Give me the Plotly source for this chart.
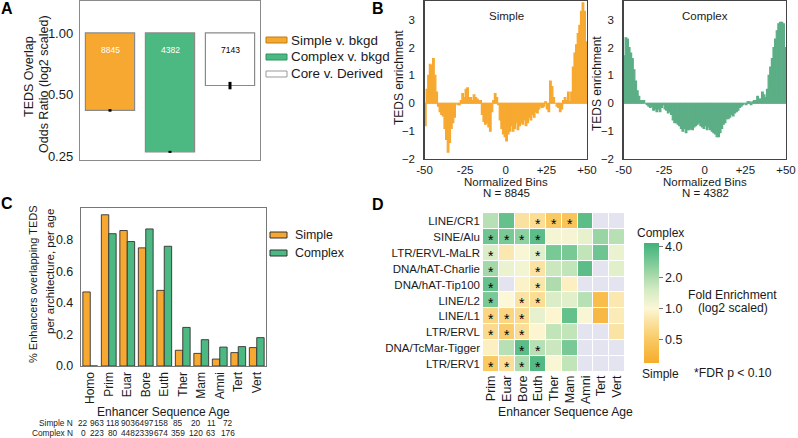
import math
import plotly.graph_objects as go

W, H = 798, 438
def px(x): return x / W
def py(y): return 1 - y / H

FONT = "Liberation Sans, Arial, sans-serif"
TXT = "#1a1a1a"
ORANGE = "#F7A830"
GREEN = "#4DB982"
GREEN_B = "#5CAE86"
NAN_C = "#E3E4EF"

# ---------------- Panel A data ----------------
a_labels = ["Simple v. bkgd", "Complex v. bkgd", "Core v. Derived"]
a_odds = [0.42, 0.264, 0.555]
a_err = [0.006, 0.003, 0.023]
a_n = ["8845", "4382", "7143"]

# ---------------- Panel B data ----------------
b_bins = list(range(-50, 50))
b_simple = [
    -0.8, 0.5, 1.0, 1.4, 1.35, 1.6, 1.0, 0.4, -0.1, -0.3,
    -0.4, -0.45, -0.9, -1.3, -1.75, -1.4, -0.9, -0.7, -0.5, 0.0,
    -0.05, -0.05, 0.1, 0.35, 0.2, 0.5, 0.55, 0.2, 0.2, 0.1,
    0.3, 0.2, 0.15, 0.1, 0.1, -0.4, -0.65, -0.75, -0.7, -0.85,
    -1.0, -0.3, 0.1, 0.35, 0.2, -0.05, -0.6, -0.9, -1.1, -1.2,
    -1.35, -1.1, -1.0, -0.8, -1.0, -0.9, -0.7, -0.95, -0.8, -0.7,
    -0.75, -0.6, -0.8, -0.7, -0.5, -0.6, -0.4, -0.5, -0.3, -0.35,
    -0.2, -0.1, -0.15, -0.1, 0.05, -0.2, -0.3, 0.8, 0.6, 0.2,
    0.0, -0.1, -0.15, -0.3, -0.2, 0.1, 0.2, 0.1, 0.4, 0.05,
    0.4, 1.3, 1.8, 2.1, 2.5, 2.8, 3.3, 3.6, 3.3, 2.2,
]
b_complex = [
    1.7, 2.35, 2.3, 2.0, 1.8, 1.6, 1.2, 0.8, 0.45, 0.25,
    0.1, 0.1, 0.1, 0.0, -0.05, -0.1, -0.15, -0.1, -0.25, -0.2,
    -0.3, -0.2, -0.3, -0.15, -0.05, -0.2, -0.25, -0.35, -0.3, -0.4,
    -0.6, -0.7, -0.7, -0.75, -0.8, -0.9, -1.0, -0.9, -1.05, -0.95,
    -0.95, -0.9, -0.95, -0.85, -0.8, -0.75, -0.7, -0.8, -0.85, -0.9,
    -0.8, -0.95, -0.85, -0.95, -1.0, -1.05, -1.1, -1.2, -1.2, -1.05,
    -0.9, -0.75, -0.7, -0.55, -0.55, -0.5, -0.4, -0.45, -0.35, -0.3,
    -0.25, -0.15, -0.1, -0.05, 0.0, -0.05, 0.05, 0.05, -0.05, 0.05,
    0.1, 0.1, 0.25, 0.15, 0.15, 0.4, 0.3, 0.2, 0.5, 1.0,
    1.3, 1.6, 2.0, 2.3, 2.6, 2.85, 2.9, 2.9, 2.85, 2.0,
]
b_xtickvals = [-50, -25, 0, 25, 50]
b_xticktext = ["-50", "-25", "0", "+25", "+50"]

# ---------------- Panel C data ----------------
c_ages = ["Homo", "Prim", "Euar", "Bore", "Euth", "Ther", "Mam", "Amni", "Tert", "Vert"]
c_simple = [0.47, 0.96, 0.86, 0.75, 0.48, 0.10, 0.08, 0.044, 0.085, 0.117]
c_complex = [0.0, 0.84, 0.79, 0.87, 0.76, 0.245, 0.167, 0.12, 0.123, 0.18]
c_simple_n = ["22", "963", "118", "903", "6497", "158", "85", "20", "11", "72"]
c_complex_n = ["0", "223", "80", "448", "2339", "674", "359", "120", "63", "176"]
c_legend = ["Simple", "Complex"]

# ---------------- Panel D data ----------------
d_rows = ["LINE/CR1", "SINE/Alu", "LTR/ERVL-MaLR", "DNA/hAT-Charlie", "DNA/hAT-Tip100",
          "LINE/L2", "LINE/L1", "LTR/ERVL", "DNA/TcMar-Tigger", "LTR/ERV1"]
d_cols = ["Prim", "Euar", "Bore", "Euth", "Ther", "Mam", "Amni", "Tert", "Vert"]
N = None
d_log2fold = [
    [0.9, 1.7, -0.45, -0.55, -1.0, -1.1, 1.8, N, N],
    [1.6, 1.5, 1.3, 1.8, 0.1, 0.1, 0.3, 1.2, 0.9],
    [0.5, -0.3, 0.05, 0.4, 1.5, 1.5, 0.8, 1.6, 0.25],
    [1.1, 0.25, 0.15, -0.4, 0.7, 0.8, 1.8, N, 0.4],
    [1.7, N, -0.1, -0.35, 1.0, -0.15, N, N, N],
    [1.5, 0.0, -0.4, -0.55, 0.5, 0.4, 0.9, -1.3, -0.3],
    [-0.7, -0.7, -0.6, 0.3, -0.05, 1.7, 0.05, -1.4, -0.25],
    [-0.6, -0.9, -0.5, -0.05, 0.8, 0.8, N, N, -0.4],
    [-0.15, 0.9, 1.8, 0.9, 0.7, 1.5, N, N, N],
    [-1.0, -0.5, 1.0, 1.9, 0.05, 0.8, N, N, N],
]
d_sig = [
    [0, 0, 0, 1, 1, 1, 0, 0, 0],
    [1, 1, 1, 1, 0, 0, 0, 0, 0],
    [1, 0, 0, 1, 0, 0, 0, 0, 0],
    [1, 0, 0, 1, 0, 0, 0, 0, 0],
    [1, 0, 0, 1, 0, 0, 0, 0, 0],
    [1, 0, 1, 1, 0, 0, 0, 0, 0],
    [1, 1, 1, 0, 0, 0, 0, 0, 0],
    [1, 1, 1, 0, 0, 0, 0, 0, 0],
    [0, 0, 1, 1, 0, 0, 0, 0, 0],
    [1, 1, 1, 1, 0, 0, 0, 0, 0],
]
d_cb_vals = [-1, 0, 1, 2]
d_cb_text = ["0.5", "1.0", "2.0", "4.0"]

fig = go.Figure()

# ---- A bars ----
a_fill = [ORANGE, GREEN, "white"]
for lab, val, col in zip(a_labels, a_odds, a_fill):
    fig.add_trace(go.Bar(
        x=[lab], y=[val - 1], base=[1], name=lab, width=0.82, offsetgroup="a",
        marker=dict(color=col, line=dict(color="#8a8a8a", width=1.2)),
        xaxis="x", yaxis="y", showlegend=False, hoverinfo="skip"))
fig.add_trace(go.Scatter(
    x=a_labels, y=a_odds, mode="markers", marker=dict(size=1, color="rgba(0,0,0,0)"),
    error_y=dict(type="data", array=a_err, color="black", thickness=3, width=0),
    xaxis="x", yaxis="y", showlegend=False, hoverinfo="skip"))

# ---- B bars ----
fig.add_trace(go.Bar(x=b_bins, y=b_simple, width=1, offset=0,
                     marker=dict(color=ORANGE, line=dict(width=1.2, color=ORANGE)),
                     xaxis="x2", yaxis="y2", showlegend=False, hoverinfo="skip"))
fig.add_trace(go.Bar(x=b_bins, y=b_complex, width=1, offset=0,
                     marker=dict(color=GREEN_B, line=dict(width=1.2, color=GREEN_B)),
                     xaxis="x3", yaxis="y3", showlegend=False, hoverinfo="skip"))

# ---- C bars ----
fig.add_trace(go.Bar(x=c_ages, y=c_simple, name=c_legend[0],
                     marker=dict(color=ORANGE, line=dict(color="#333", width=0.9)),
                     xaxis="x4", yaxis="y4", showlegend=False, hoverinfo="skip"))
fig.add_trace(go.Bar(x=c_ages, y=c_complex, name=c_legend[1],
                     marker=dict(color=GREEN, line=dict(color="#333", width=0.9)),
                     xaxis="x4", yaxis="y4", showlegend=False, hoverinfo="skip"))

# ---- D heatmap ----
d_nan_mask = [[1 if v is None else None for v in row] for row in d_log2fold]
fig.add_trace(go.Heatmap(z=d_nan_mask, x=d_cols, y=d_rows,
                         colorscale=[[0, NAN_C], [1, NAN_C]], showscale=False,
                         xgap=1, ygap=1, xaxis="x5", yaxis="y5", hoverinfo="skip"))
zmin, zmax = -1.74, 2.1
def t(v): return (v - zmin) / (zmax - zmin)
cscale = [[0.0, "#F6AC2A"], [t(-1.0), "#F9C962"], [t(-0.4), "#FBE3A4"], [t(0.0), "#FCF7D6"],
          [t(0.6), "#D3EBC4"], [t(1.0), "#AEDCAE"], [t(1.6), "#6EC591"], [1.0, "#41B27A"]]
fig.add_trace(go.Heatmap(
    z=d_log2fold, x=d_cols, y=d_rows, zmin=zmin, zmax=zmax, colorscale=cscale,
    xgap=1, ygap=1, xaxis="x5", yaxis="y5", hoverinfo="skip",
    colorbar=dict(x=px(644), xanchor="left", xpad=0, ypad=0, thickness=15,
                  len=120, lenmode="pixels", y=py(303), yanchor="middle",
                  outlinewidth=0, tickvals=d_cb_vals, ticktext=d_cb_text,
                  ticks="outside", ticklen=4, tickcolor="#777",
                  tickfont=dict(size=12.5, color=TXT, family=FONT))))

ann = []
shapes = []
def A(text, x, y, size=12, xanchor="center", yanchor="middle", angle=0, color=TXT, bold=False, **kw):
    if bold:
        text = "<b>" + text + "</b>"
    d = dict(text=text, x=px(x), y=py(y), xref="paper", yref="paper", showarrow=False,
             xanchor=xanchor, yanchor=yanchor, textangle=angle,
             font=dict(size=size, color=color, family=FONT))
    d.update(kw)
    ann.append(d)

def patch(x0, x1, yc, h, fill, line):
    shapes.append(dict(type="rect", xref="paper", yref="paper",
                       x0=px(x0), x1=px(x1), y0=py(yc + h / 2), y1=py(yc - h / 2),
                       fillcolor=fill, line=dict(color=line, width=1)))

# panel letters
A("A", 7, 8, size=16, bold=True, color="black")
A("B", 378, 8, size=16, bold=True, color="black")
A("C", 7, 203, size=16, bold=True, color="black")
A("D", 378, 205, size=16, bold=True, color="black")

# A texts
for lab, n, col in zip(a_labels, a_n, ["white", "white", "black"]):
    ann.append(dict(text=n, x=lab, xref="x", y=py(43), yref="paper", showarrow=False,
                    font=dict(size=8.5, color=col, family=FONT)))
A("TEDS Overlap", 29, 77, size=12.5, angle=-90)
A("Odds Ratio (log2 scaled)", 44, 84, size=12.5, angle=-90)
# A legend
a_edge = ["#c07d10", "#2f9260", "#999999"]
for i, (lab, col, edge) in enumerate(zip(a_labels, a_fill, a_edge)):
    yc = 40 + 17 * i
    patch(266, 287, yc, 6, col, edge)
    A(lab, 289, yc, size=13.4, xanchor="left")

# B texts
A("Simple", 506, 16, size=11.5)
A("Complex", 705, 16, size=11.5)
A("TEDS enrichment", 399, 78, size=12, angle=-90)
A("TEDS enrichment", 597, 84, size=12, angle=-90)
A("Normalized Bins", 506, 181.5, size=11.5)
A("N = 8845", 506, 193, size=11.5)
A("Normalized Bins", 705, 181.5, size=11.5)
A("N = 4382", 705, 193, size=11.5)

# C texts
A("% Enhancers overlapping TEDS", 33, 284, size=11, angle=-90)
A("per architecture, per age", 50, 272, size=11.5, angle=-90)
A("Enhancer Sequence Age", 163, 412, size=12)
A("Simple N", 75, 423, size=8.3, xanchor="right")
A("Complex N", 75, 433, size=8.3, xanchor="right")
n_x = [83, 97, 113, 128, 144, 161, 178, 196, 211, 228]
for xx, s, c in zip(n_x, c_simple_n, c_complex_n):
    A(s, xx, 423, size=8.3)
    A(c, xx, 433, size=8.3)
# C legend
for i, (lab, col) in enumerate(zip(c_legend, [ORANGE, GREEN])):
    yc = 235 + 18 * i
    patch(270, 287, yc, 6, col, "#333333")
    A(lab, 293, yc, size=12.4, xanchor="left")

# D texts
A("Enhancer Sequence Age", 565, 412, size=12.2)
A("Complex", 660, 233, size=12)
A("Simple", 660, 374, size=12)
A("Fold Enrichment", 732, 295, size=12.2)
A("(log2 scaled)", 733, 308, size=12.2)
A("*FDR p < 0.10", 733, 373, size=12.2)
for r, row in enumerate(d_sig):
    for c, s in enumerate(row):
        if s:
            ann.append(dict(text="*", x=d_cols[c], y=d_rows[r], xref="x5", yref="y5",
                            showarrow=False, yshift=-3,
                            font=dict(size=14, color="black", family=FONT)))

shapes.append(dict(type="line", xref="x domain", x0=0, x1=1, yref="y", y0=0, y1=0,
                   line=dict(color="#8a8a8a", width=1.2)))

tickf = lambda s: dict(size=s, color=TXT, family=FONT)
noline = dict(showgrid=False, zeroline=False, automargin=False)

fig.update_layout(
    template="none",
    width=W, height=H, autosize=False, margin=dict(l=0, r=0, t=0, b=0, pad=0),
    paper_bgcolor="white", plot_bgcolor="white", showlegend=False,
    barmode="group", bargap=0.2, bargroupgap=0,
    font=dict(family=FONT, color=TXT),
    annotations=ann,
    shapes=shapes,
    xaxis=dict(domain=[px(80), px(260)], anchor="y", range=[-0.5, 2.5],
               showticklabels=False, ticks="", showline=True, mirror=True,
               linecolor="#8a8a8a", linewidth=1.2, **noline),
    yaxis=dict(domain=[py(160), py(1)], anchor="x", type="log",
               range=[math.log10(0.241), math.log10(1.43)],
               tickvals=[0.25, 0.5, 1.0], ticktext=["0.25", "0.50", "1.00"],
               tickfont=tickf(13), ticks="", ticklabelstandoff=3, showline=True, mirror=True,
               linecolor="#8a8a8a", linewidth=1.2, **noline),
    xaxis2=dict(domain=[px(424.5), px(587)], anchor="y2", range=[-50, 50],
                tickvals=b_xtickvals, ticktext=b_xticktext, tickfont=tickf(11.5), ticks="",
                showline=True, mirror=True, linecolor="#444", linewidth=1.2, **noline),
    yaxis2=dict(domain=[py(159), py(1)], anchor="x2", range=[-2, 3.67],
                tickvals=[-2, -1, 0, 1, 2, 3], tickfont=tickf(11.5), ticks="",
                ticklabelstandoff=6, showline=True, mirror=True, linecolor="#444",
                linewidth=1.2, **noline),
    xaxis3=dict(domain=[px(623.5), px(786)], anchor="y3", range=[-50, 50],
                tickvals=b_xtickvals, ticktext=b_xticktext, tickfont=tickf(11.5), ticks="",
                showline=True, mirror=True, linecolor="#444", linewidth=1.2, **noline),
    yaxis3=dict(domain=[py(159), py(1)], anchor="x3", range=[-2, 3.67],
                tickvals=[-2, -1, 0, 1, 2, 3], tickfont=tickf(11.5), ticks="",
                ticklabelstandoff=6, showline=True, mirror=True, linecolor="#444",
                linewidth=1.2, **noline),
    xaxis4=dict(domain=[px(81), px(266)], anchor="y4", type="category", range=[-0.5, 9.5],
                tickangle=-90, tickfont=tickf(12), ticks="", showline=True, mirror=True,
                linecolor="#777", linewidth=1.2, **noline),
    yaxis4=dict(domain=[py(366), py(208)], anchor="x4", range=[0, 1.003],
                tickvals=[0, 0.2, 0.4, 0.6, 0.8], tickformat=".1f", tickfont=tickf(12.5),
                ticks="", ticklabelstandoff=4, showline=True, mirror=True,
                linecolor="#777", linewidth=1.2, **noline),
    xaxis5=dict(domain=[px(483), px(625)], anchor="y5", type="category",
                tickangle=-90, tickfont=tickf(12.5), ticks="", showline=False, **noline),
    yaxis5=dict(domain=[py(372), py(208)], anchor="x5", type="category",
                autorange="reversed", tickfont=tickf(11.5), ticks="", showline=False,
                ticklabelstandoff=2, **noline),
)

fig.write_html("out.html", config={"displayModeBar": False, "staticPlot": True},
               post_script="document.body.style.margin='0px';document.body.style.overflow='hidden';")
